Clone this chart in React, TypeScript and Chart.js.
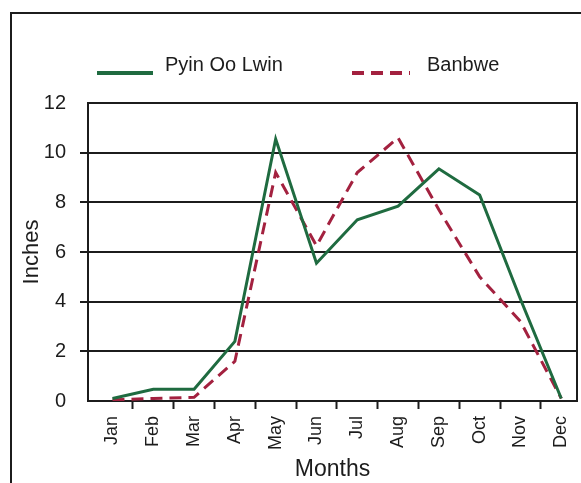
import React, { useEffect, useRef } from "react";
import { Chart, registerables } from "chart.js";

Chart.register(...registerables);

const MONTHS = ["Jan", "Feb", "Mar", "Apr", "May", "Jun", "Jul", "Aug", "Sep", "Oct", "Nov", "Dec"];
const PYIN_OO_LWIN = [0.1, 0.47, 0.47, 2.4, 10.55, 5.55, 7.3, 7.85, 9.35, 8.3, 4.1, 0.1];
const BANBWE = [0.05, 0.1, 0.15, 1.6, 9.2, 6.25, 9.2, 10.6, 7.7, 5.0, 3.2, 0.1];
const Y_TICKS = [0, 2, 4, 6, 8, 10, 12];

const FONT = "'Liberation Sans', Arial, sans-serif";
const INK = "#1c1c1c";
const GREEN = "#1f6b40";
const RED = "#a3213f";

const legendPlugin = {
  id: "sketchLegend",
  afterDraw(chart: any, _args: any, opts: any) {
    const ctx = chart.ctx;
    chart.data.datasets.forEach((ds: any, i: number) => {
      const x = opts.lineX[i];
      ctx.save();
      ctx.strokeStyle = ds.borderColor;
      ctx.lineWidth = opts.lineWidth;
      ctx.setLineDash(ds.borderDash || []);
      ctx.beginPath();
      ctx.moveTo(x, opts.lineY);
      ctx.lineTo(x + opts.lineLen[i], opts.lineY);
      ctx.stroke();
      ctx.setLineDash([]);
      ctx.fillStyle = INK;
      ctx.font = `${opts.fontSize}px ${FONT}`;
      ctx.textBaseline = "alphabetic";
      ctx.textAlign = "left";
      ctx.fillText(ds.label, opts.textX[i], opts.textY);
      ctx.restore();
    });
  },
};

const frameRightPlugin = {
  id: "plotRightBorder",
  afterDatasetsDraw(chart: any) {
    const { ctx, chartArea } = chart;
    ctx.save();
    ctx.strokeStyle = INK;
    ctx.lineWidth = 2;
    ctx.beginPath();
    ctx.moveTo(chartArea.right, chartArea.top - 1);
    ctx.lineTo(chartArea.right, chartArea.bottom + 1);
    ctx.stroke();
    ctx.restore();
  },
};

export default function App() {
  const ref = useRef<HTMLCanvasElement | null>(null);

  useEffect(() => {
    if (!ref.current) return;
    const chart = new Chart(ref.current, {
      type: "line",
      data: {
        datasets: [
          {
            label: "Pyin Oo Lwin",
            data: PYIN_OO_LWIN.map((v, i) => ({ x: i, y: v })),
            borderColor: GREEN,
            borderWidth: 3,
            pointRadius: 0,
            tension: 0,
            fill: false,
          },
          {
            label: "Banbwe",
            data: BANBWE.map((v, i) => ({ x: i, y: v })),
            borderColor: RED,
            borderWidth: 3,
            borderDash: [12, 7],
            pointRadius: 0,
            tension: 0,
            fill: false,
          },
        ],
      },
      options: {
        animation: false,
        responsive: false,
        maintainAspectRatio: false,
        layout: { padding: { left: 0, top: 103, right: 4, bottom: 0 } },
        plugins: {
          legend: { display: false },
          tooltip: { enabled: false },
          sketchLegend: {
            lineX: [97, 352],
            lineLen: [56, 58],
            lineY: 73,
            lineWidth: 4,
            textX: [165, 427],
            textY: 71,
            fontSize: 20,
          },
        } as any,
        scales: {
          x: {
            type: "linear",
            min: -0.6,
            max: 11.385,
            afterBuildTicks: (scale: any) => {
              scale.ticks = MONTHS.map((_, i) => ({ value: i }));
            },
            afterFit: (scale: any) => {
              scale.height = 82;
              scale.paddingLeft = 0;
              scale.paddingRight = 0;
            },
            ticks: {
              autoSkip: false,
              minRotation: 90,
              maxRotation: 90,
              padding: 7,
              color: INK,
              font: { family: FONT, size: 18 },
              callback: (value: any) => MONTHS[Math.round(Number(value))] ?? "",
            },
            grid: {
              display: true,
              drawOnChartArea: false,
              drawTicks: true,
              offset: true,
              tickLength: 8,
              tickWidth: 2,
              tickColor: (ctx: any) => (ctx.index === 0 ? "rgba(0,0,0,0)" : INK),
              color: (ctx: any) => (ctx.index === 0 ? "rgba(0,0,0,0)" : INK),
            },
            border: { display: true, color: INK, width: 2 },
            title: {
              display: true,
              text: "Months",
              color: INK,
              font: { family: FONT, size: 23 },
              padding: { top: 0, bottom: 0 },
            },
          },
          y: {
            type: "linear",
            min: 0,
            max: 12,
            afterBuildTicks: (scale: any) => {
              scale.ticks = Y_TICKS.map((v) => ({ value: v }));
            },
            afterFit: (scale: any) => {
              scale.width = 88;
            },
            ticks: {
              padding: 14,
              color: INK,
              font: { family: FONT, size: 20 },
            },
            grid: {
              color: INK,
              lineWidth: 2,
              drawTicks: true,
              tickLength: 8,
              tickWidth: 2,
              tickColor: (ctx: any) =>
                ctx.tick && (ctx.tick.value === 0 || ctx.tick.value === 12) ? "rgba(0,0,0,0)" : INK,
            },
            border: { display: true, color: INK, width: 2 },
            title: {
              display: true,
              text: "Inches",
              color: INK,
              font: { family: FONT, size: 22 },
              padding: { top: 19, bottom: 0 },
            },
          },
        },
      } as any,
      plugins: [legendPlugin, frameRightPlugin],
    });
    return () => chart.destroy();
  }, []);

  return (
    <div
      style={{
        position: "fixed",
        left: 0,
        top: 0,
        width: 581,
        height: 483,
        overflow: "hidden",
        background: "#fff",
      }}
    >
      <div
        style={{
          position: "absolute",
          left: 10,
          top: 12,
          width: 700,
          height: 600,
          borderLeft: `2px solid ${INK}`,
          borderTop: `2px solid ${INK}`,
        }}
      />
      <canvas ref={ref} width={581} height={483} style={{ position: "absolute", left: 0, top: 0 }} />
    </div>
  );
}
